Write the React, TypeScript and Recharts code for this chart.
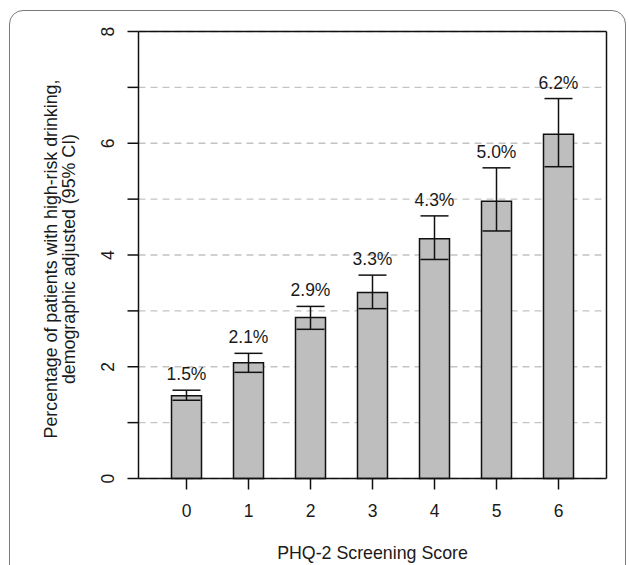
import React from "react";
import {
  ComposedChart,
  Bar,
  Line,
  XAxis,
  YAxis,
  CartesianGrid,
  ErrorBar,
  LabelList,
  Label,
} from "recharts";

const categories = ["0", "1", "2", "3", "4", "5", "6"];
const values = [1.48, 2.07, 2.88, 3.33, 4.29, 4.96, 6.16];
const lower = [1.4, 1.9, 2.67, 3.04, 3.92, 4.43, 5.58];
const upper = [1.58, 2.24, 3.08, 3.64, 4.7, 5.56, 6.8];
const pctLabels = ["1.5%", "2.1%", "2.9%", "3.3%", "4.3%", "5.0%", "6.2%"];
const yTicks = [0, 1, 2, 3, 4, 5, 6, 7, 8];
const yTickLabels: Record<number, string> = { 0: "0", 2: "2", 4: "4", 6: "6", 8: "8" };

const data = categories.map((c, i) => ({
  score: c,
  value: values[i],
  hi: upper[i],
  err: [values[i] - lower[i], upper[i] - values[i]],
  label: pctLabels[i],
}));

const FONT = "'Liberation Sans', Arial, sans-serif";
const TXT = "#1a1a1a";
const FS = 17.5;

const YTick = (props: any) => {
  const { x, y, payload } = props;
  const t = yTickLabels[payload.value];
  if (t === undefined) return null;
  return (
    <text
      x={x}
      y={y}
      dy="0.35em"
      transform={`rotate(-90, ${x}, ${y})`}
      textAnchor="middle"
      fontSize={FS}
      fontFamily={FONT}
      fill={TXT}
    >
      {t}
    </text>
  );
};

const XTick = (props: any) => {
  const { x, y, payload } = props;
  return (
    <text x={x} y={y} dy={25.5} textAnchor="middle" fontSize={FS} fontFamily={FONT} fill={TXT}>
      {payload.value}
    </text>
  );
};

const YTitle = () => {
  const cy = 259;
  const x1 = 51;
  const x2 = 69;
  return (
    <g>
      <text
        x={x1}
        y={cy}
        dy="0.35em"
        transform={`rotate(-90, ${x1}, ${cy})`}
        textAnchor="middle"
        fontSize={17.8}
        fontFamily={FONT}
        fill={TXT}
      >
        Percentage of patients with high-risk drinking,
      </text>
      <text
        x={x2}
        y={cy}
        dy="0.35em"
        transform={`rotate(-90, ${x2}, ${cy})`}
        textAnchor="middle"
        fontSize={17.8}
        fontFamily={FONT}
        fill={TXT}
      >
        demographic adjusted (95% CI)
      </text>
    </g>
  );
};

const XTitle = () => {
  return (
    <text x={372.5} y={553} dy="0.35em" textAnchor="middle" fontSize={17.8} fontFamily={FONT} fill={TXT}>
      PHQ-2 Screening Score
    </text>
  );
};

const PctLabel = (props: any) => {
  const { x, y, value } = props;
  return (
    <text x={x} y={y - 10} textAnchor="middle" fontSize={FS} fontFamily={FONT} fill={TXT}>
      {value}
    </text>
  );
};

export default function App() {
  return (
    <div
      style={{
        position: "fixed",
        left: 0,
        top: 0,
        width: 629,
        height: 565,
        overflow: "hidden",
        background: "#fff",
      }}
    >
      <div
        style={{
          position: "absolute",
          left: 9,
          top: 10,
          width: 617,
          height: 620,
          border: "1.5px solid #7a7a7a",
          borderRadius: 14,
          boxSizing: "border-box",
        }}
      />
      <div style={{ position: "absolute", left: 0, top: 0 }}>
        <ComposedChart
          width={629}
          height={565}
          data={data}
          margin={{ top: 30.5, right: 21.5, left: 78.5, bottom: 26.5 }}
        >
          <CartesianGrid
            horizontal={true}
            vertical={false}
            stroke="#c4c4c4"
            strokeDasharray="7 5"
            strokeWidth={1.3}
          />
          <XAxis
            dataKey="score"
            type="category"
            height={60}
            padding={{ left: 17, right: 17 }}
            axisLine={{ stroke: "#111", strokeWidth: 1.5 }}
            tickLine={{ stroke: "#111", strokeWidth: 1.5 }}
            tickSize={11}
            tick={<XTick />}
            interval={0}
          >
            <Label content={<XTitle />} />
          </XAxis>
          <XAxis
            xAxisId="top"
            dataKey="score"
            orientation="top"
            height={1}
            tick={false}
            tickLine={false}
            padding={{ left: 17, right: 17 }}
            axisLine={{ stroke: "#111", strokeWidth: 1.5 }}
          />
          <YAxis
            domain={[0, 8]}
            ticks={yTicks}
            type="number"
            width={60}
            interval={0}
            axisLine={{ stroke: "#111", strokeWidth: 1.5 }}
            tickLine={{ stroke: "#111", strokeWidth: 1.5 }}
            tickSize={11}
            tickMargin={20}
            tick={<YTick />}
          >
            <Label content={<YTitle />} />
          </YAxis>
          <YAxis
            yAxisId="right"
            orientation="right"
            domain={[0, 8]}
            type="number"
            width={1}
            tick={false}
            tickLine={false}
            axisLine={{ stroke: "#111", strokeWidth: 1.5 }}
          />
          <Bar
            dataKey="value"
            barSize={30}
            fill="#bebebe"
            stroke="#111"
            strokeWidth={1.5}
            isAnimationActive={false}
          >
            <ErrorBar
              dataKey="err"
              direction="y"
              width={14}
              stroke="#111"
              strokeWidth={1.5}
              isAnimationActive={false}
            />
          </Bar>
          <Line
            dataKey="hi"
            stroke="none"
            dot={false}
            activeDot={false}
            legendType="none"
            isAnimationActive={false}
          >
            <LabelList dataKey="label" content={<PctLabel />} />
          </Line>
        </ComposedChart>
      </div>
    </div>
  );
}
